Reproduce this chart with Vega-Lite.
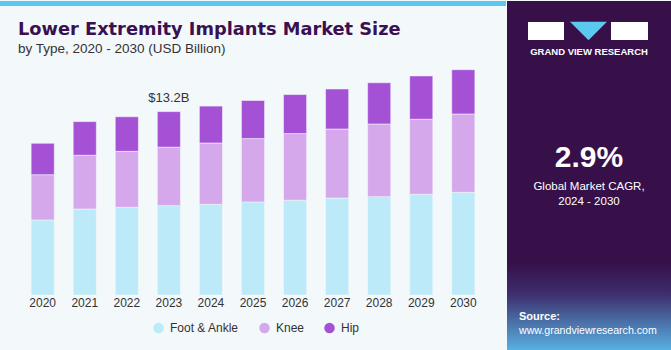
{
  "$schema": "https://vega.github.io/schema/vega-lite/v6.json",
  "background": "#F3F8FB",
  "padding": 0,
  "spacing": 0,
  "config": {"view": {"stroke": null}, "font": "Liberation Sans"},
  "datasets": {
    "market": [
      {"year": "2020", "type": "Foot & Ankle", "value": 5.40}, {"year": "2020", "type": "Knee", "value": 3.26}, {"year": "2020", "type": "Hip", "value": 2.26},
      {"year": "2021", "type": "Foot & Ankle", "value": 6.19}, {"year": "2021", "type": "Knee", "value": 3.87}, {"year": "2021", "type": "Hip", "value": 2.42},
      {"year": "2022", "type": "Foot & Ankle", "value": 6.31}, {"year": "2022", "type": "Knee", "value": 4.03}, {"year": "2022", "type": "Hip", "value": 2.49},
      {"year": "2023", "type": "Foot & Ankle", "value": 6.43}, {"year": "2023", "type": "Knee", "value": 4.21}, {"year": "2023", "type": "Hip", "value": 2.56},
      {"year": "2024", "type": "Foot & Ankle", "value": 6.53}, {"year": "2024", "type": "Knee", "value": 4.41}, {"year": "2024", "type": "Hip", "value": 2.66},
      {"year": "2025", "type": "Foot & Ankle", "value": 6.70}, {"year": "2025", "type": "Knee", "value": 4.56}, {"year": "2025", "type": "Hip", "value": 2.74},
      {"year": "2026", "type": "Foot & Ankle", "value": 6.82}, {"year": "2026", "type": "Knee", "value": 4.80}, {"year": "2026", "type": "Hip", "value": 2.81},
      {"year": "2027", "type": "Foot & Ankle", "value": 6.98}, {"year": "2027", "type": "Knee", "value": 4.97}, {"year": "2027", "type": "Hip", "value": 2.88},
      {"year": "2028", "type": "Foot & Ankle", "value": 7.08}, {"year": "2028", "type": "Knee", "value": 5.23}, {"year": "2028", "type": "Hip", "value": 2.97},
      {"year": "2029", "type": "Foot & Ankle", "value": 7.25}, {"year": "2029", "type": "Knee", "value": 5.40}, {"year": "2029", "type": "Hip", "value": 3.12},
      {"year": "2030", "type": "Foot & Ankle", "value": 7.39}, {"year": "2030", "type": "Knee", "value": 5.64}, {"year": "2030", "type": "Hip", "value": 3.19}
    ],
    "types": [
      {"type": "Foot & Ankle", "stackOrder": 1},
      {"type": "Knee", "stackOrder": 2},
      {"type": "Hip", "stackOrder": 3}
    ]
  },
  "hconcat": [
    {
      "spacing": 13,
      "vconcat": [
        {
          "width": 506,
          "height": 5,
          "view": {"fill": "#5BC8F0", "stroke": null},
          "data": {"values": [{}]},
          "mark": {"type": "point", "opacity": 0},
          "encoding": {}
        },
        {
          "width": 506,
          "height": 222,
          "title": {
            "text": "Lower Extremity Implants Market Size",
            "subtitle": "by Type, 2020 - 2030 (USD Billion)",
            "anchor": "start",
            "frame": "group",
            "dx": 18,
            "font": "DejaVu Sans",
            "fontSize": 17.8,
            "fontWeight": "bold",
            "color": "#3A1050",
            "subtitleFont": "Liberation Sans",
            "subtitleFontSize": 13.5,
            "subtitleColor": "#333333",
            "subtitlePadding": 3,
            "offset": 14
          },
          "data": {"name": "market"},
          "transform": [
            {"lookup": "type", "from": {"data": {"name": "types"}, "key": "type", "fields": ["stackOrder"]}}
          ],
          "layer": [
            {
              "mark": {"type": "bar", "stroke": "#F3F8FB", "strokeWidth": 0.8, "strokeOpacity": 0.7},
              "encoding": {
                "x": {
                  "field": "year", "type": "ordinal",
                  "scale": {"paddingInner": 0.45, "paddingOuter": 0.74},
                  "axis": {"title": null, "labelAngle": 0, "domain": false, "ticks": false, "labelPadding": 2,
                           "labelFont": "Liberation Sans", "labelFontSize": 12, "labelColor": "#333333"}
                },
                "y": {
                  "field": "value", "type": "quantitative", "stack": "zero",
                  "scale": {"domain": [0, 15.98], "nice": false},
                  "axis": null
                },
                "order": {"field": "stackOrder", "type": "quantitative"},
                "color": {
                  "field": "type", "type": "nominal",
                  "scale": {"domain": ["Foot & Ankle", "Knee", "Hip"], "range": ["#BDEAF8", "#D5A8EB", "#A551D6"]},
                  "legend": {"title": null, "orient": "none", "legendX": 152.5, "legendY": 321, "direction": "horizontal", "symbolType": "circle",
                             "symbolSize": 110, "symbolStrokeWidth": 0, "labelFont": "Liberation Sans", "labelOffset": 5.5,
                             "labelFontSize": 12, "labelColor": "#333333", "columnPadding": 19}
                }
              }
            },
            {
              "transform": [{"filter": "datum.year == '2023'"}],
              "mark": {"type": "text", "dy": -7, "baseline": "bottom", "font": "Liberation Sans", "fontSize": 13, "color": "#333333"},
              "encoding": {
                "x": {"field": "year", "type": "ordinal"},
                "y": {"aggregate": "sum", "field": "value", "type": "quantitative"},
                "text": {"value": "$13.2B"}
              }
            }
          ]
        }
      ]
    },
    {
      "width": 165,
      "height": 350,
      "view": {"fill": "#37104A", "stroke": null},
      "data": {"values": [{}]},
      "layer": [
        {
          "mark": {"type": "rect", "x": 0, "x2": 165, "y": 262, "y2": 350,
                   "fill": {"gradient": "linear", "x1": 0, "y1": 0, "x2": 0, "y2": 1,
                            "stops": [{"offset": 0, "color": "#37104A"}, {"offset": 0.35, "color": "#3D2E6C"}, {"offset": 1, "color": "#58B3E4"}]}},
          "encoding": {}
        },
        {"mark": {"type": "rect", "x": 21, "x2": 57, "y": 21, "y2": 39, "fill": "#FFFFFF"}, "encoding": {}},
        {"mark": {"type": "rect", "x": 104, "x2": 141, "y": 21, "y2": 39, "fill": "#FFFFFF"}, "encoding": {}},
        {"mark": {"type": "point", "shape": "M-1,-0.5L1,-0.5L0,0.5Z", "x": 81.5, "y": 30, "size": 1369, "filled": true, "fill": "#5BC8F0", "opacity": 1}, "encoding": {}},
        {"mark": {"type": "text", "text": "GRAND VIEW RESEARCH", "x": 82, "y": 51, "align": "center", "baseline": "middle", "fontSize": 9.5, "fontWeight": "bold", "letterSpacing": 0.9, "fill": "#FFFFFF"}, "encoding": {}},
        {"mark": {"type": "text", "text": "2.9%", "x": 82, "y": 166, "align": "center", "baseline": "alphabetic", "fontSize": 30, "fontWeight": "bold", "fill": "#FFFFFF"}, "encoding": {}},
        {"mark": {"type": "rule", "x": 28, "x2": 135, "y": 173, "stroke": "#FFFFFF", "strokeWidth": 1}, "encoding": {}},
        {"mark": {"type": "text", "text": "Global Market CAGR,", "x": 82, "y": 186, "align": "center", "baseline": "middle", "fontSize": 11.5, "fill": "#FFFFFF"}, "encoding": {}},
        {"mark": {"type": "text", "text": "2024 - 2030", "x": 82, "y": 201, "align": "center", "baseline": "middle", "fontSize": 11.5, "fill": "#FFFFFF"}, "encoding": {}},
        {"mark": {"type": "text", "text": "Source:", "x": 12, "y": 316, "align": "left", "baseline": "middle", "fontSize": 11, "fontWeight": "bold", "fill": "#FFFFFF"}, "encoding": {}},
        {"mark": {"type": "text", "text": "www.grandviewresearch.com", "x": 12, "y": 330, "align": "left", "baseline": "middle", "fontSize": 10.6, "fill": "#FFFFFF"}, "encoding": {}}
      ]
    }
  ]
}
